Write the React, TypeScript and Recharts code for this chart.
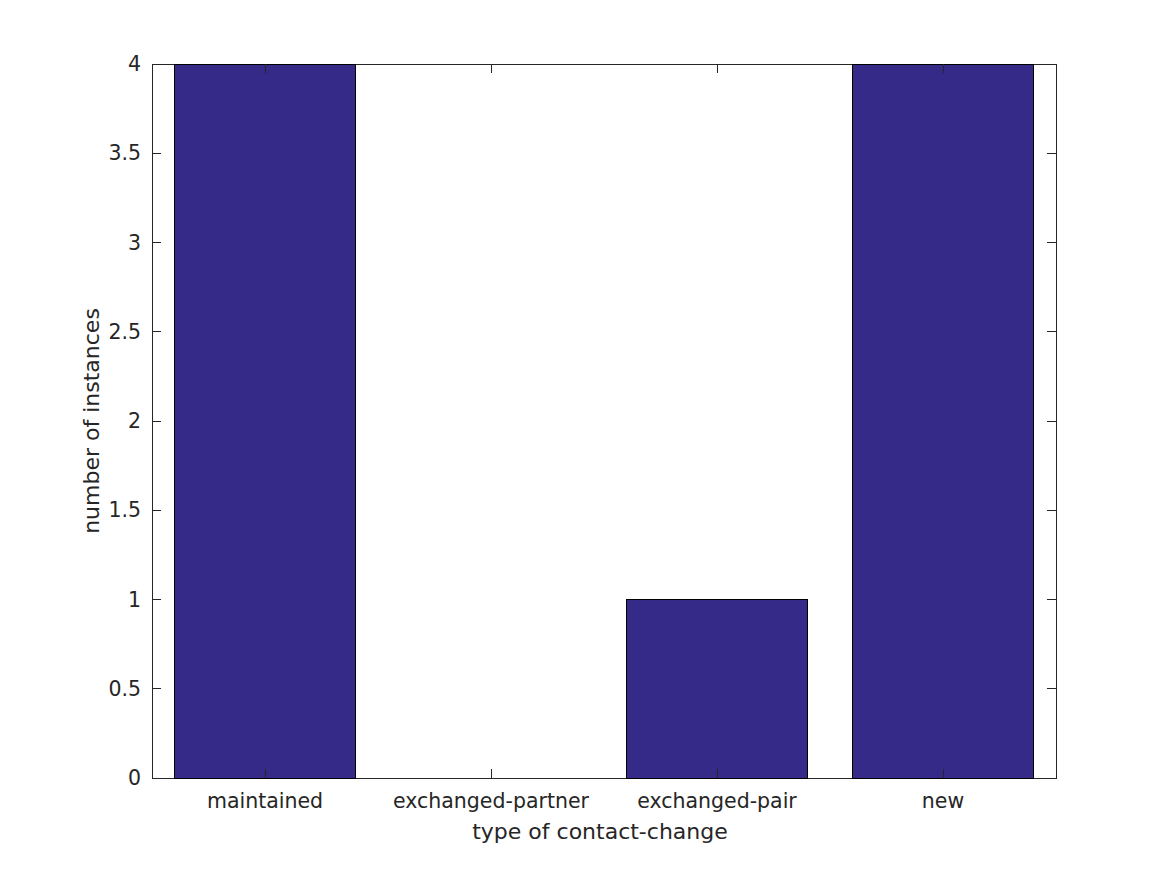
import React from "react";
import { BarChart, Bar, XAxis, YAxis, Label, ReferenceArea } from "recharts";

const categories = ["maintained", "exchanged-partner", "exchanged-pair", "new"];
const instances = [4, 0, 1, 4];
const yTicks = [0, 0.5, 1, 1.5, 2, 2.5, 3, 3.5, 4];

const data = categories.map((name, i) => ({ name, count: instances[i] }));

const INK = "#262626";
const FONT = "'DejaVu Sans', sans-serif";
const W = 1167;
const H = 875;
const M = { top: 64, right: 111, bottom: 37, left: 92 };
const Y_AXIS_W = 60;
const X_AXIS_H = 60;
const PLOT_L = M.left + Y_AXIS_W;
const PLOT_R = W - M.right;
const PLOT_T = M.top;
const PLOT_B = H - M.bottom - X_AXIS_H;
const TICK = 9;

// y tick: label plus inward tick marks on both sides of the box
function YTick(props: any) {
  const { x, y, payload } = props;
  return (
    <g>
      <line x1={PLOT_L} x2={PLOT_L + TICK} y1={y} y2={y} stroke={INK} shapeRendering="crispEdges" />
      <line x1={PLOT_R - TICK} x2={PLOT_R} y1={y} y2={y} stroke={INK} shapeRendering="crispEdges" />
      <text x={x} y={y} textAnchor="end" dominantBaseline="central" fill={INK} fontSize={20.5} fontFamily={FONT}>
        {payload.value}
      </text>
    </g>
  );
}

function XTick(props: any) {
  const { x, y, payload } = props;
  return (
    <g>
      <line x1={x} x2={x} y1={PLOT_B} y2={PLOT_B - TICK} stroke={INK} shapeRendering="crispEdges" />
      <line x1={x} x2={x} y1={PLOT_T} y2={PLOT_T + TICK} stroke={INK} shapeRendering="crispEdges" />
      <text x={x} y={y} dy="0.71em" textAnchor="middle" fill={INK} fontSize={20.5} fontFamily={FONT}>
        {payload.value}
      </text>
    </g>
  );
}

export default function App() {
  return (
    <div style={{ width: W, height: H, background: "#fff" }}>
      <style>{"body{margin:0}"}</style>
      <BarChart width={W} height={H} data={data} margin={M} barCategoryGap="10%">
        <XAxis
          dataKey="name"
          height={X_AXIS_H}
          interval={0}
          tickSize={0}
          tickMargin={15}
          axisLine={false}
          tickLine={false}
          tick={<XTick />}
        >
          <Label
            content={(props: any) => {
              const vb = props.viewBox || { x: PLOT_L, width: PLOT_R - PLOT_L };
              const cx = vb.x + vb.width / 2 - 4;
              return (
                <text x={cx} y={839} textAnchor="middle" fill={INK} fontSize={22} fontFamily={FONT}>
                  type of contact-change
                </text>
              );
            }}
          />
        </XAxis>
        <YAxis
          width={Y_AXIS_W}
          domain={[0, 4]}
          ticks={yTicks}
          interval={0}
          tickSize={0}
          tickMargin={11}
          axisLine={false}
          tickLine={false}
          tick={<YTick />}
        >
          <Label
            content={(props: any) => {
              const vb = props.viewBox || { x: M.left, y: PLOT_T, height: PLOT_B - PLOT_T };
              const cx = vb.x - 1;
              const cy = vb.y + vb.height / 2;
              return (
                <text
                  x={cx}
                  y={cy}
                  transform={`rotate(-90 ${cx} ${cy})`}
                  textAnchor="middle"
                  dominantBaseline="central"
                  fill={INK}
                  fontSize={22}
                  fontFamily={FONT}
                >
                  number of instances
                </text>
              );
            }}
          />
        </YAxis>
        <Bar
          dataKey="count"
          fill="#352a87"
          stroke="#000"
          strokeWidth={1}
          shapeRendering="crispEdges"
          isAnimationActive={false}
        />
        <ReferenceArea
          x1={categories[0]}
          x2={categories[categories.length - 1]}
          y1={0}
          y2={4}
          fill="none"
          fillOpacity={0}
          stroke={INK}
          strokeWidth={1}
          shapeRendering="crispEdges"
          ifOverflow="visible"
        />
      </BarChart>
    </div>
  );
}
